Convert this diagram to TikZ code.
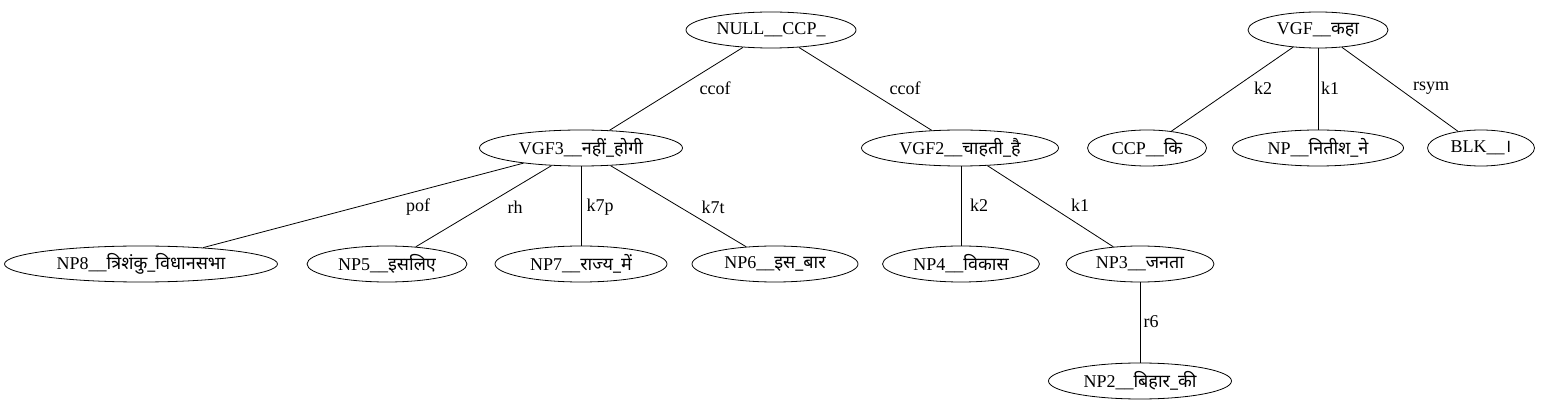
\documentclass[tikz,border=0pt]{standalone}
\usepackage{fontspec}
\setmainfont{Liberation Serif}
\newfontfamily\deva[Script=Devanagari]{Noto Sans}
\usetikzlibrary{shapes.geometric}
\tikzset{
  tnode/.style={draw, ellipse, inner sep=0pt, minimum height=36pt, font=\fontsize{18}{20}\selectfont, line width=0.8pt},
  lbl/.style={font=\fontsize{18}{20}\selectfont, inner sep=0pt},
  conn/.style={line width=0.8pt}
}
\newcommand{\dv}[1]{{\deva\fontsize{18}{20}\selectfont #1}}
\begin{document}
\begin{tikzpicture}[x=1pt,y=-1pt]
\useasboundingbox (0,0) rectangle (1541,411);
% nodes
\node[tnode, minimum width=170pt] (null) at (771,30) {NULL\_\_CCP\_};
\node[tnode, minimum width=203pt] (vgf3) at (581,148) {VGF3\_\_\dv{नहीं\_होगी}};
\node[tnode, minimum width=197pt] (vgf2) at (960,148) {VGF2\_\_\dv{चाहती\_है}};
\node[tnode, minimum width=140pt] (vgf) at (1318,30) {VGF\_\_\dv{कहा}};
\node[tnode, minimum width=119pt] (ccp) at (1147,148) {CCP\_\_\dv{कि}};
\node[tnode, minimum width=171pt] (np) at (1318,148) {NP\_\_\dv{नितीश\_ने}};
\node[tnode, minimum width=107pt] (blk) at (1481,148) {BLK\_\_\dv{।}};
\node[tnode, minimum width=273pt] (np8) at (141,264) {NP8\_\_\dv{त्रिशंकु\_विधानसभा}};
\node[tnode, minimum width=160pt] (np5) at (387,264) {NP5\_\_\dv{इसलिए}};
\node[tnode, minimum width=172pt] (np7) at (581,264) {NP7\_\_\dv{राज्य\_में}};
\node[tnode, minimum width=166pt] (np6) at (775,264) {NP6\_\_\dv{इस\_बार}};
\node[tnode, minimum width=157pt] (np4) at (961,264) {NP4\_\_\dv{विकास}};
\node[tnode, minimum width=148pt] (np3) at (1140,264) {NP3\_\_\dv{जनता}};
\node[tnode, minimum width=183pt] (np2) at (1140,381) {NP2\_\_\dv{बिहार\_की}};
% connectors
\draw[conn] (null) -- (vgf3);
\draw[conn] (null) -- (vgf2);
\draw[conn] (vgf3) -- (np8);
\draw[conn] (vgf3) -- (np5);
\draw[conn] (vgf3) -- (np7);
\draw[conn] (vgf3) -- (np6);
\draw[conn] (vgf2.south -| np4) -- (np4);
\draw[conn] (vgf2) -- (np3);
\draw[conn] (np3) -- (np2);
\draw[conn] (vgf) -- (ccp);
\draw[conn] (vgf) -- (np);
\draw[conn] (vgf) -- (blk);
% labels
\node[lbl] (l1) at (715,88) {ccof};
\node[lbl] (l2) at (905,88) {ccof};
\node[lbl] (l3) at (418,207) {pof};
\node[lbl] (l4) at (515,207) {rh};
\node[lbl] (l5) at (600,207) {k7p};
\node[lbl] (l6) at (713,207) {k7t};
\node[lbl] (l7) at (979,205) {k2};
\node[lbl] (l8) at (1080,205) {k1};
\node[lbl] (l9) at (1151,322) {r6};
\node[lbl] (l10) at (1263,88) {k2};
\node[lbl] (l11) at (1330,88) {k1};
\node[lbl] (l12) at (1431,88) {rsym};
\end{tikzpicture}
\end{document}
